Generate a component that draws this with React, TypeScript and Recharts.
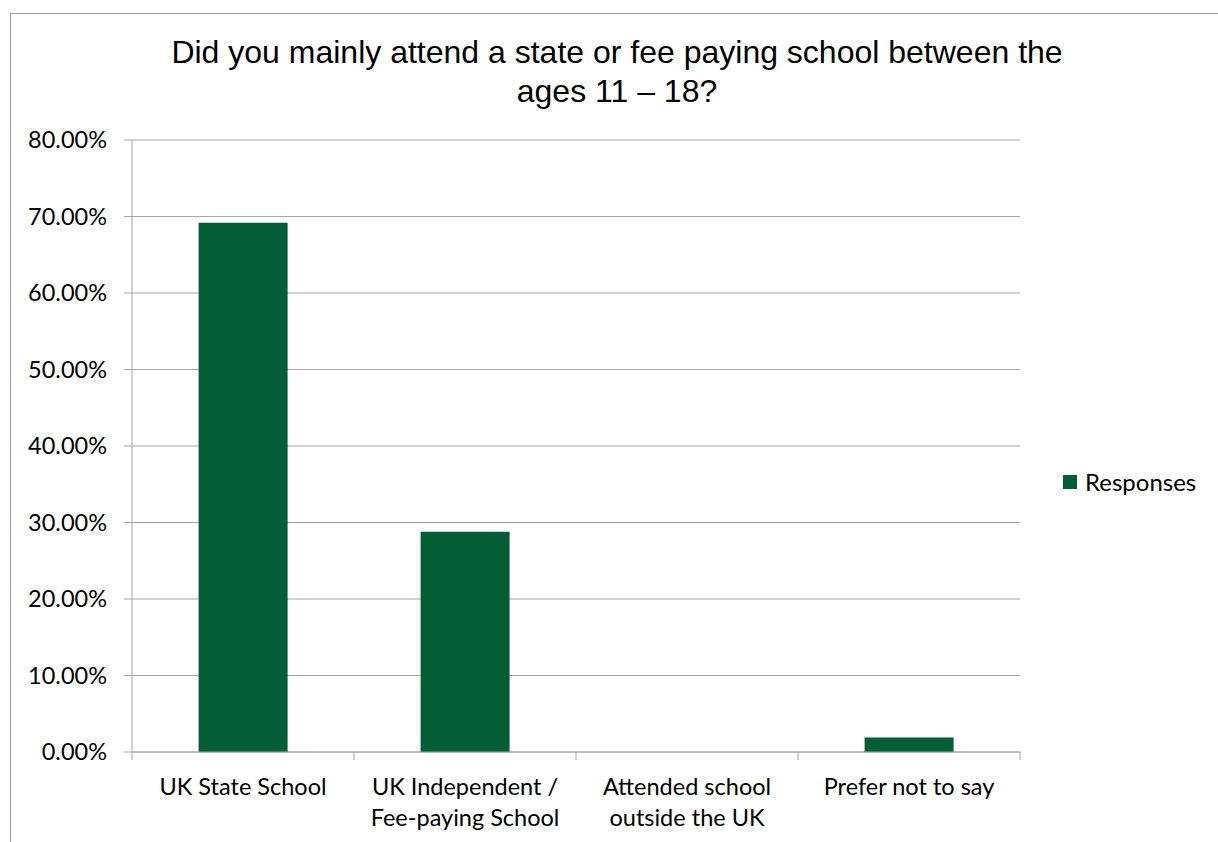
import * as React from "react";
import {Bar, BarChart, CartesianGrid, XAxis, YAxis} from "recharts";

const CATEGORIES = ["UK State School", "UK Independent / Fee-paying School", "Attended school outside the UK", "Prefer not to say"];
const TICK_LINES = [["UK State School"], ["UK Independent /", "Fee-paying School"], ["Attended school", "outside the UK"], ["Prefer not to say"]];
const RESPONSES = [69.19, 28.8, 0, 1.88];
const Y_TICKS = [0, 10, 20, 30, 40, 50, 60, 70, 80];

const W = 1218;
const H = 842;
const MARGIN = {top: 140, right: 198, bottom: 0, left: 0};
const Y_WIDTH = 132;
const BAND = (W - MARGIN.right - MARGIN.left - Y_WIDTH) / CATEGORIES.length;
const GREEN = "#035E37";
const GREY = "#a6a6a6";
const LABEL_FONT = "Lato, 'Open Sans', sans-serif";
const LABEL_SIZE = 23.5;

const data = CATEGORIES.map((name, i) => ({name, Responses: RESPONSES[i]}));

// ticks sit on the category boundaries, like the original
function CategoryTick(props: any) {
    const {x, y, index} = props;
    const lines = TICK_LINES[index] || [props.payload.value];
    const last = index === CATEGORIES.length - 1;
    return (
        <g>
            <line x1={x - BAND / 2} x2={x - BAND / 2} y1={y} y2={y + 8} stroke={GREY}/>
            {last && <line x1={x + BAND / 2} x2={x + BAND / 2} y1={y} y2={y + 8} stroke={GREY}/>}
            {lines.map((l: string, k: number) => (
                <text key={k} x={x} y={y + 43 + k * 31} textAnchor="middle" fill="#000"
                      fontSize={LABEL_SIZE} fontFamily={LABEL_FONT}>{l}</text>
            ))}
        </g>
    );
}

export default function App() {
    return (
        <div style={{position: "absolute", left: 0, top: 0, width: W, height: H, overflow: "hidden", background: "#fff"}}>
            <div style={{position: "absolute", left: 10, top: 13, width: W + 50, height: H + 50, border: "1px solid #a0a0a0"}}/>
            <div style={{
                position: "absolute", left: 117, top: 33, width: 1000, textAlign: "center",
                fontFamily: "'Liberation Sans', Arial, sans-serif", fontSize: 32, lineHeight: "39px", color: "#000"
            }}>
                <div>Did you mainly attend a state or fee paying school between the</div>
                <div>ages 11 – 18?</div>
            </div>
            <div style={{position: "absolute", left: 0, top: 0}}>
                <BarChart width={W} height={H} data={data} margin={MARGIN} barCategoryGap="30%">
                    <CartesianGrid vertical={false} stroke={GREY}/>
                    <XAxis dataKey="name" height={90} tickSize={0} tickMargin={0} interval={0}
                           axisLine={{stroke: GREY}} tickLine={false} tick={<CategoryTick/>}/>
                    <YAxis width={Y_WIDTH} domain={[0, 80]} ticks={Y_TICKS} interval={0}
                           tickFormatter={(v: number) => v.toFixed(2) + "%"}
                           axisLine={{stroke: GREY}} tickLine={{stroke: GREY}} tickSize={8} tickMargin={17}
                           tick={{fill: "#000", fontSize: LABEL_SIZE, fontFamily: LABEL_FONT}}/>
                    <Bar dataKey="Responses" fill={GREEN} isAnimationActive={false}/>
                </BarChart>
            </div>
            <div style={{
                position: "absolute", left: 1063, top: 467, display: "flex", alignItems: "center",
                fontFamily: LABEL_FONT, fontSize: 24, color: "#000"
            }}>
                <span style={{width: 14, height: 14, background: GREEN, display: "inline-block", marginRight: 8}}/>
                <span>Responses</span>
            </div>
        </div>
    );
}
